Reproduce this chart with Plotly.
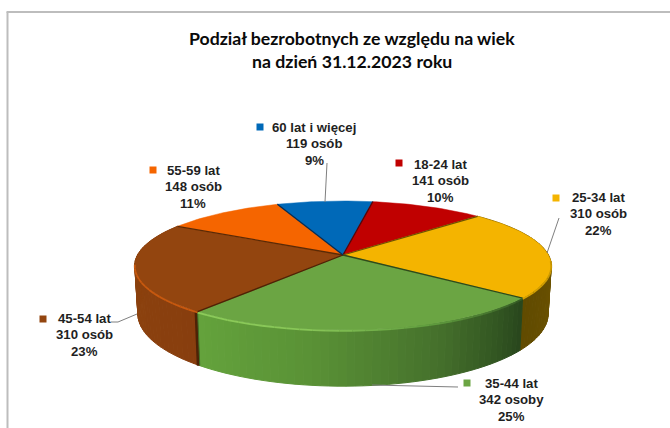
import math
import plotly.graph_objects as go

# ---------- data ----------
categories = ["18-24 lat", "25-34 lat", "35-44 lat", "45-54 lat", "55-59 lat", "60 lat i więcej"]
counts = [141, 310, 342, 310, 148, 119]
count_labels = ["141 osób", "310 osób", "342 osoby", "310 osób", "148 osób", "119 osób"]
percent_labels = ["10%", "22%", "25%", "23%", "11%", "9%"]
top_colors = ["#c00000", "#f4b400", "#6ba543", "#93450f", "#f56500", "#0069b8"]
title_lines = ["Podział bezrobotnych ze względu na wiek", "na dzień 31.12.2023 roku"]

# ---------- projection of the tilted disc ----------
CX, AY, RX, RY, K = 343.0, 255.0, 205.5, 62.8, 0.163
DEPTH, NARROW = 47.0, 0.985
START_DEG = 9.7


def top_pt(deg):
    t = math.radians(deg)
    u, v = math.sin(t), -math.cos(t)
    w = 1 - K * v
    return CX + RX * u / w, AY + RY * v / w


def bottom_pt(deg):
    t = math.radians(deg)
    v = -math.cos(t)
    x, y = top_pt(deg)
    return CX + (x - CX) * NARROW, y + DEPTH / (1 - K * v)


def mix(stops, f):
    f = max(0.0, min(1.0, f))
    n = len(stops) - 1
    i = min(int(f * n), n - 1)
    g = f * n - i
    a, b = stops[i], stops[i + 1]
    return "rgb(%d,%d,%d)" % tuple(round(a[j] + (b[j] - a[j]) * g) for j in range(3))


side_stops = {
    1: [(128, 96, 0), (112, 85, 0), (96, 74, 0)],
    2: [(100, 163, 60), (90, 146, 54), (70, 114, 44), (40, 70, 28)],
    3: [(136, 62, 14), (140, 66, 14), (136, 62, 14)],
}
rim_stops = {
    1: [(217, 164, 0), (200, 150, 0)],
    2: [(140, 203, 90), (136, 198, 88), (96, 156, 62), (52, 88, 36)],
    3: [(200, 89, 15), (200, 89, 15)],
}

total = sum(counts)
spans, a = [], START_DEG
for c in counts:
    b = a + 360.0 * c / total
    spans.append((a, b))
    a = b

fig = go.Figure()


def poly(xs, ys, color, lw=1.0):
    fig.add_trace(go.Scatter(x=xs, y=ys, mode="lines", fill="toself", fillcolor=color,
                             line=dict(color=color, width=lw), hoverinfo="skip", showlegend=False))


def path(xs, ys, color, lw):
    fig.add_trace(go.Scatter(x=xs, y=ys, mode="lines", line=dict(color=color, width=lw),
                             hoverinfo="skip", showlegend=False))


# outer wall, drawn for the three front slices
for i in (3, 1, 2):
    s, e = spans[i]
    n = max(2, int((e - s) / 2))
    for j in range(n):
        d0 = s + (e - s) * j / n
        d1 = s + (e - s) * (j + 1) / n
        p0, p1, q1, q0 = top_pt(d0), top_pt(d1), bottom_pt(d1), bottom_pt(d0)
        f = (e - (d0 + d1) / 2) / (e - s) if i == 2 else (d0 - s) / (e - s)
        poly([p0[0], p1[0], q1[0], q0[0], p0[0]], [p0[1], p1[1], q1[1], q0[1], p0[1]],
             mix(side_stops[i], f))

# dark cut edges of the wall
g0 = spans[2][1]
p, q = top_pt(g0), bottom_pt(g0)
path([p[0] - 1.5, q[0] - 1.5], [p[1], q[1]], "#4d2206", 3)
path([p[0], q[0]], [p[1], q[1]], "#3f6e28", 1)

# top face of each slice
for i, (s, e) in enumerate(spans):
    n = max(4, int(e - s))
    pts = [top_pt(s + (e - s) * j / n) for j in range(n + 1)]
    xs = [CX] + [p[0] for p in pts] + [CX]
    ys = [AY] + [p[1] for p in pts] + [AY]
    poly(xs, ys, top_colors[i], 0.5)

# lit rim along the upper edge of the wall, fading with the light
for i in (1, 2, 3):
    s, e = spans[i]
    s2 = max(s, 95) if i == 1 else s
    e2 = min(e, 262) if i == 3 else e
    n = int((e2 - s2) / 3)
    for j in range(n):
        d0 = s2 + (e2 - s2) * j / n
        d1 = s2 + (e2 - s2) * (j + 1) / n
        p0, p1 = top_pt(d0), top_pt(d1)
        f = (e2 - (d0 + d1) / 2) / (e2 - s2)
        path([p0[0], p1[0]], [p0[1] + 0.8, p1[1] + 0.8], mix(rim_stops[i], f), 1.8)

# dark seams between the slices
seam_colors = ["#5e0000", "#6d5200", "#2f4a1a", "#4d2206", "#5a2a06", "#0a2c50"]
for i, (s, e) in enumerate(spans):
    p = top_pt(s)
    path([CX, p[0]], [AY, p[1]], seam_colors[i], 1.3)

# leader lines
leaders = {
    5: [(327, 163), (325, 202)],
    1: [(559, 218), (547, 253)],
    3: [(111, 322), (118, 322), (137, 314)],
    2: [(458, 387), (372, 385)],
}
for i, pts in leaders.items():
    path([p[0] for p in pts], [p[1] for p in pts], "#7f7f7f", 1)

# data labels
label_pos = {
    0: (440, 164, 399, 163),
    1: (598, 197, 556, 198),
    2: (511, 383, 467, 383),
    3: (84, 318, 43, 319),
    4: (193, 170, 153, 170),
    5: (314, 127, 260, 127),
}
FONT = "Liberation Sans"
for i, (tx, ty, kx, ky) in label_pos.items():
    fig.add_trace(go.Scatter(x=[kx], y=[ky], mode="markers",
                             marker=dict(symbol="square", size=7, color=top_colors[i]),
                             hoverinfo="skip", showlegend=False))
    for k, t in enumerate((categories[i], count_labels[i], percent_labels[i])):
        fig.add_annotation(x=tx, y=ty + k * 16.8, text=t, showarrow=False, xanchor="center", yanchor="middle",
                           font=dict(family=FONT, size=13.2, color="#1f1f1f", weight="bold"))

for k, t in enumerate(title_lines):
    fig.add_annotation(x=352, y=38 + k * 23.5, text=t, showarrow=False, xanchor="center", yanchor="middle",
                       font=dict(family="Lato", size=17.7, color="#0a0a0a", weight="bold"))

fig.update_layout(
    width=670, height=428, autosize=False, margin=dict(l=0, r=0, t=0, b=0),
    paper_bgcolor="white", plot_bgcolor="white",
    xaxis=dict(range=[0, 670], visible=False, fixedrange=True),
    yaxis=dict(range=[428, 0], visible=False, fixedrange=True),
    shapes=[
        dict(type="line", x0=7.5, x1=7.5, y0=12, y1=428, line=dict(color="#bdbdbd", width=2)),
        dict(type="line", x0=6.5, x1=670, y0=12, y1=12, line=dict(color="#bdbdbd", width=2)),
    ],
)
fig.write_html("out.html", config=dict(displayModeBar=False),
               post_script="document.body.style.margin='0';")
